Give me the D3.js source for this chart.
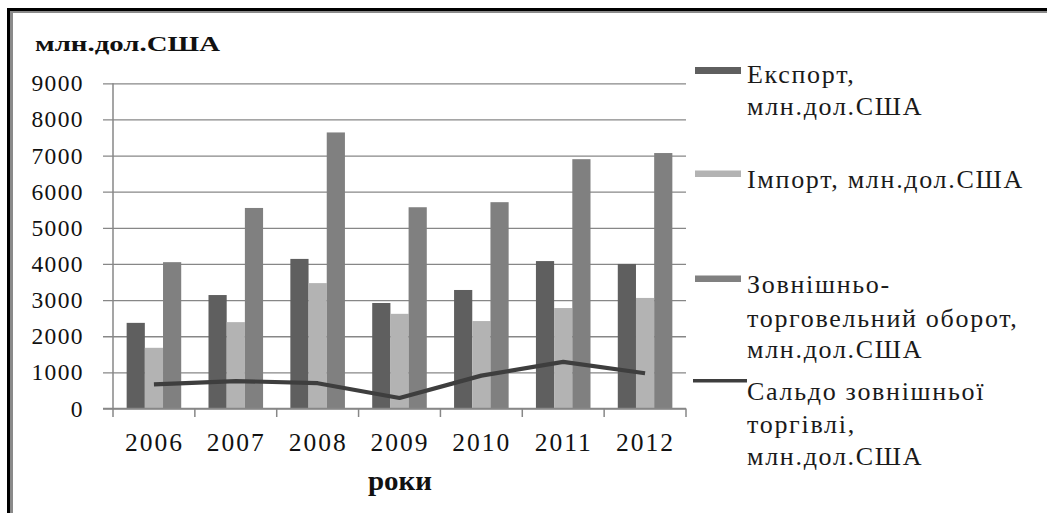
<!DOCTYPE html>
<html>
<head>
<meta charset="utf-8">
<script src="https://cdn.jsdelivr.net/npm/d3@7"></script>
<style>
  html, body { margin: 0; padding: 0; background: #fff; }
  svg { display: block; }
</style>
</head>
<body>
<svg id="chart" width="1047" height="513" font-family="'Liberation Serif', 'Times New Roman', 'DejaVu Serif', serif"></svg>
<script>
// ---- data ----
const years = ["2006", "2007", "2008", "2009", "2010", "2011", "2012"];
const exportVals   = [2370, 3140, 4140, 2920, 3280, 4080, 4000];
const importVals   = [1680, 2390, 3470, 2620, 2420, 2780, 3060];
const turnoverVals = [4050, 5550, 7640, 5570, 5710, 6900, 7070];
const saldoVals    = [670, 760, 700, 290, 910, 1290, 975];
const yTicks = [0, 1000, 2000, 3000, 4000, 5000, 6000, 7000, 8000, 9000];
const legendLines = [["Експорт,", "млн.дол.США"], ["Імпорт, млн.дол.США"], ["Зовнішньо-", "торговельний оборот,", "млн.дол.США"], ["Сальдо зовнішньої", "торгівлі,", "млн.дол.США"]];
const yTitle = "млн.дол.США";
const xTitle = "роки";

// ---- styles ----
const colors = ["#5f5f5f", "#b3b3b3", "#808080"];
const lineColor = "#3e3e3e";
const gridColor = "#878787";
const FONT = "'Liberation Serif', 'Times New Roman', 'DejaVu Serif', serif";

const svg = d3.select("#chart");

// frame
svg.append("rect").attr("x", 7).attr("y", 8).attr("width", 1040).attr("height", 3).attr("fill", "#000");
svg.append("rect").attr("x", 10).attr("y", 11).attr("width", 1037).attr("height", 2).attr("fill", "#8a8a8a");
svg.append("rect").attr("x", 7).attr("y", 8).attr("width", 3).attr("height", 505).attr("fill", "#000");
svg.append("rect").attr("x", 10).attr("y", 11).attr("width", 3).attr("height", 502).attr("fill", "#8a8a8a");

const x0 = 113, x1 = 686, yTop = 83.3, yBot = 408.5;
const x = d3.scaleBand().domain(years).range([x0, x1]).paddingInner(0).paddingOuter(0);
const y = d3.scaleLinear().domain([0, 9000]).range([yBot, yTop]);
const bw = x.bandwidth() / 4.5;
const sub = d3.scaleBand().domain([0, 1, 2]).range([(x.bandwidth() - 3 * bw) / 2, (x.bandwidth() + 3 * bw) / 2]);

// gridlines + y axis ticks
const yAxis = d3.axisLeft(y).tickValues(yTicks).tickSize(-(x1 - x0)).tickSizeOuter(0).tickFormat("");
const gy = svg.append("g").attr("transform", `translate(${x0},0)`).call(yAxis);
gy.selectAll(".tick line").attr("stroke", gridColor).attr("stroke-width", 1.3).attr("x1", -10);
gy.select(".domain").remove();
svg.append("line").attr("x1", x0).attr("x2", x0).attr("y1", yTop).attr("y2", yBot)
  .attr("stroke", gridColor).attr("stroke-width", 1.5);

// y labels
svg.append("g").selectAll("text").data(yTicks).join("text")
  .attr("x", 84).attr("y", d => y(d) + 8)
  .attr("text-anchor", "end")
  .attr("font-family", FONT)
  .style("font-size", "23.5px").style("letter-spacing", "1.4px").style("fill", "#111")
  .text(d => d);

// bars
const data = [exportVals, importVals, turnoverVals];
data.forEach((vals, si) => {
  svg.append("g").selectAll("rect").data(vals).join("rect")
    .attr("x", (d, i) => x(years[i]) + sub(si))
    .attr("width", sub.bandwidth())
    .attr("y", d => y(d))
    .attr("height", d => y(0) - y(d))
    .attr("fill", colors[si]);
});

// x axis
svg.append("line").attr("x1", x0 - 10).attr("x2", x1).attr("y1", yBot).attr("y2", yBot)
  .attr("stroke", gridColor).attr("stroke-width", 1.5);
const bounds = years.map(yy => x(yy)).concat([x1]);
svg.append("g").selectAll("line").data(bounds).join("line")
  .attr("x1", d => d).attr("x2", d => d).attr("y1", yBot).attr("y2", yBot + 8.5)
  .attr("stroke", gridColor).attr("stroke-width", 1.5);

// x labels
svg.append("g").selectAll("text").data(years).join("text")
  .attr("x", d => x(d) + x.bandwidth() / 2 + 0.5).attr("y", 450.5)
  .attr("text-anchor", "middle")
  .attr("font-family", FONT)
  .style("font-size", "25.5px").style("letter-spacing", "2px").style("fill", "#111")
  .text(d => d);

// saldo line
const line = d3.line().x((d, i) => x(years[i]) + x.bandwidth() / 2).y(d => y(d));
svg.append("path").datum(saldoVals).attr("d", line)
  .attr("fill", "none").attr("stroke", lineColor).attr("stroke-width", 4.2).attr("stroke-linejoin", "round");

// titles
svg.append("text").attr("x", 35).attr("y", 50.7)
  .attr("font-family", FONT)
  .attr("textLength", 185).attr("lengthAdjust", "spacingAndGlyphs")
  .style("font-size", "22px").style("font-weight", "bold").style("fill", "#111")
  .text(yTitle);
svg.append("text").attr("x", 368).attr("y", 490)
  .attr("font-family", FONT)
  .attr("textLength", 64).attr("lengthAdjust", "spacingAndGlyphs")
  .style("font-size", "27px").style("font-weight", "bold").style("fill", "#111")
  .text(xTitle);

// legend
const legX = 747;
const legSw = [{y: 67, h: 7}, {y: 170.5, h: 6.5}, {y: 275.5, h: 6.5}];
const legBase = [[83.3, 115], [188.3], [293.3, 326.7, 358.3], [400, 433.3, 465]];
legSw.forEach((s, i) => {
  svg.append("rect").attr("x", 695).attr("y", s.y).attr("width", 46).attr("height", s.h).attr("fill", colors[i]);
});
svg.append("line").attr("x1", 693).attr("x2", 747).attr("y1", 380.7).attr("y2", 380.7)
  .attr("stroke", lineColor).attr("stroke-width", 3.5);
legendLines.forEach((lines, i) => {
  const t = svg.append("text").attr("x", legX)
    .attr("font-family", FONT)
    .style("font-size", "26px").style("letter-spacing", "1.7px").style("fill", "#1a1a1a");
  lines.forEach((ln, j) => {
    t.append("tspan").attr("x", legX).attr("y", legBase[i][j]).text(ln);
  });
});
</script>
</body>
</html>
